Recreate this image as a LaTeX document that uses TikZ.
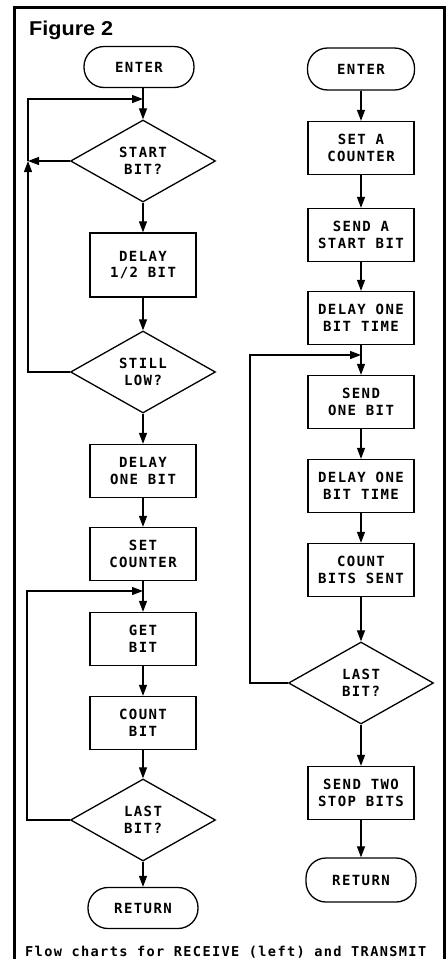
\documentclass[tikz,border=0pt]{standalone}
\usepackage{fontspec}
\newfontfamily\chartfont[LetterSpace=10]{DejaVu Sans Mono}
\newfontfamily\titlefont{Liberation Sans}
\usetikzlibrary{arrows.meta,shapes.geometric}

\begin{document}
\begin{tikzpicture}[x=1pt,y=1pt,>={Triangle[length=11pt,width=8pt]},
 task/.style={draw,line width=1.3pt,align=center,minimum width=106pt,minimum height=53pt,inner sep=2pt,font={\chartfont\bfseries\fontsize{14}{16.5}\selectfont}},
 term/.style={task,rounded corners=20pt,minimum width=110pt,minimum height=41pt},
 test/.style={task,diamond,minimum width=145pt,minimum height=82pt,inner sep=0pt},
 flow/.style={->,line width=1.2pt},
 caption/.style={anchor=base west,inner sep=0pt,font={\chartfont\bfseries\fontsize{13.6}{16}\selectfont}}]
\useasboundingbox (0,0) rectangle (447,-959);
\draw[line width=3pt] (14,-959) |- (444,-7) -- (444,-959);
\node[anchor=base west,inner sep=0pt,font={\titlefont\bfseries\fontsize{20}{24}\selectfont}] (title) at (29,-35) {\scalebox{1.08}[1]{Figure 2}};

% receive
\node[term] (enterL) at (139,-67) {ENTER};
\node[test] (startL) at (143,-161) {START\\BIT?};
\node[task,minimum height=64pt] (halfL) at (143,-265) {DELAY\\1/2 BIT};
\node[test] (lowL) at (143,-372) {STILL\\LOW?};
\node[task] (oneL) at (143,-471) {DELAY\\ONE BIT};
\node[task] (setL) at (143,-554) {SET\\COUNTER};
\node[task] (getL) at (143,-639) {GET\\BIT};
\node[task] (countL) at (143,-723) {COUNT\\BIT};
\node[test] (lastL) at (143,-820) {LAST\\BIT?};
\node[term] (returnL) at (143,-908) {RETURN};

% transmit
\node[term,minimum width=107pt,minimum height=42pt] (enterR) at (361,-69) {ENTER};
\node[task] (setR) at (361,-148) {SET A\\COUNTER};
\node[task] (sendR) at (361,-235) {SEND A\\START BIT};
\node[task] (delayR) at (361,-318) {DELAY ONE\\BIT TIME};
\node[task] (bitR) at (361,-402) {SEND\\ONE BIT};
\node[task] (delay2R) at (361,-486) {DELAY ONE\\BIT TIME};
\node[task] (countR) at (361,-570) {COUNT\\BITS SENT};
\node[test] (lastR) at (361,-683) {LAST\\BIT?};
\node[task] (stopR) at (361,-793) {SEND TWO\\STOP BITS};
\node[term,minimum height=44pt] (returnR) at (361,-880) {RETURN};

\coordinate (mergeL1) at (143,-99);
\coordinate (backL1) at (28,-161);
\coordinate (mergeL2) at (143,-591);
\coordinate (loopL) at (27,-591);
\coordinate (mergeR) at (361,-355);
\coordinate (loopR) at (250,-355);

\draw[flow] (enterL.south -| mergeL1)--(startL.north);
\draw[flow] (startL.west)--(backL1);
\draw[flow] (lowL.west)-|(backL1);
\draw[flow] (backL1)|-(mergeL1);
\draw[flow] (startL.south)--(halfL.north);
\draw[flow] (halfL.south)--(lowL.north);
\draw[flow] (lowL.south)--(oneL.north);
\draw[flow] (oneL.south)--(setL.north);
\draw[flow] (setL.south)--(getL.north);
\draw[flow] (getL.south)--(countL.north);
\draw[flow] (countL.south)--(lastL.north);
\draw[flow] (lastL.west)-|(loopL)--(mergeL2);
\draw[flow] (lastL.south)--(returnL.north);

\draw[flow] (enterR.south)--(setR.north);
\draw[flow] (setR.south)--(sendR.north);
\draw[flow] (sendR.south)--(delayR.north);
\draw[flow] (delayR.south)--(bitR.north);
\draw[flow] (bitR.south)--(delay2R.north);
\draw[flow] (delay2R.south)--(countR.north);
\draw[flow] (countR.south)--(lastR.north);
\draw[flow] (lastR.west)-|(loopR)--(mergeR);
\draw[flow] (lastR.south)--(stopR.north);
\draw[flow] (stopR.south)--(returnR.north);

\node[caption] (note) at (25,-956) {Flow charts for RECEIVE (left) and TRANSMIT};
\end{tikzpicture}
\end{document}
